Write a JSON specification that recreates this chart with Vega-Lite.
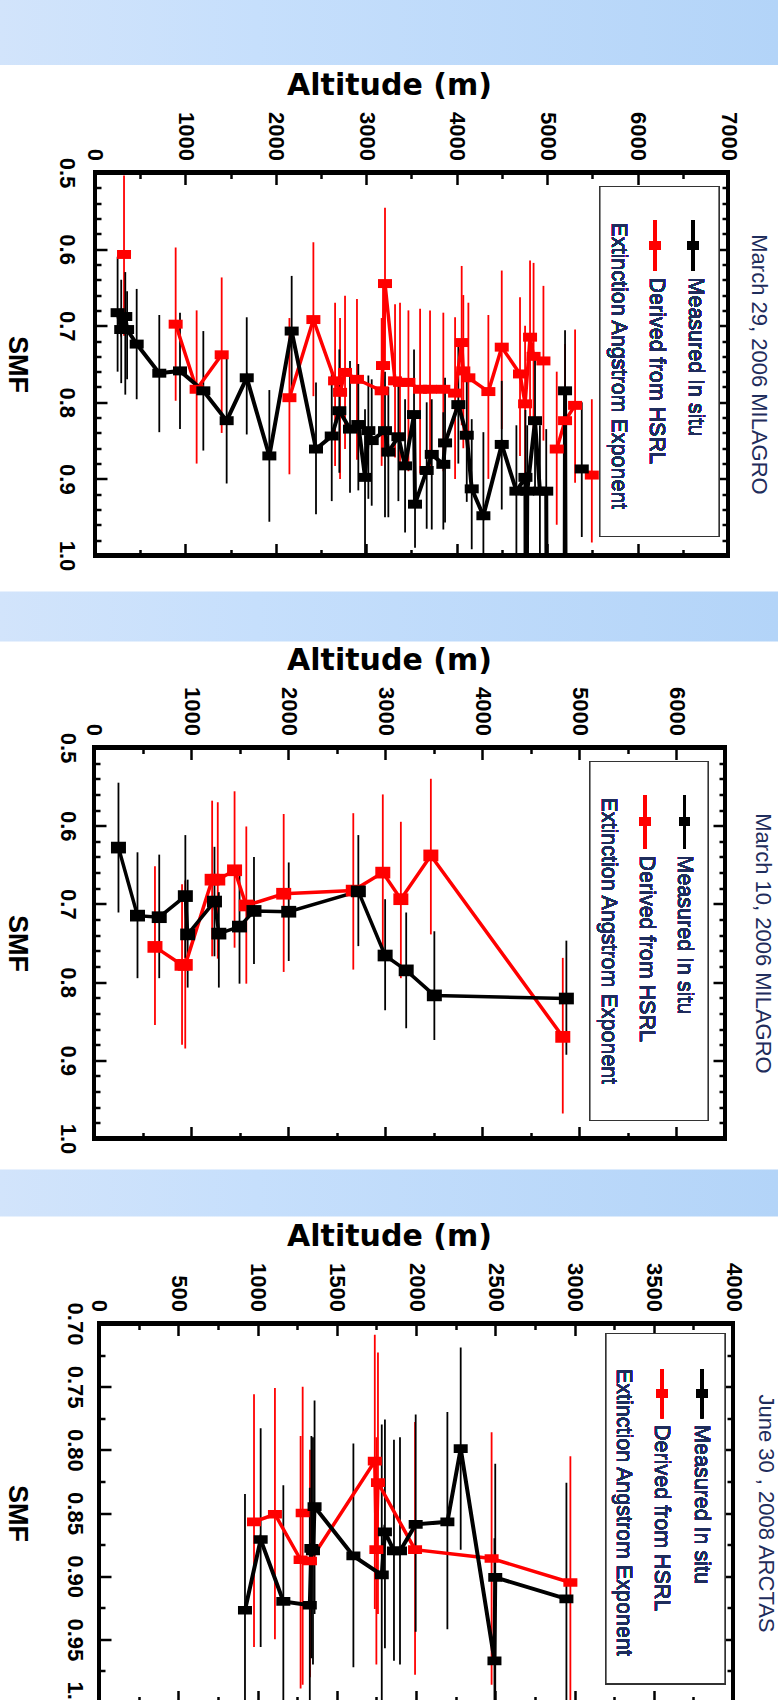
{
  "$schema": "https://vega.github.io/schema/vega-lite/v6.json",
  "padding": 0,
  "background": "#ffffff",
  "config": {
    "view": {"stroke": null},
    "font": "Liberation Sans"
  },
  "datasets": {
    "p1": [
      {"series": "Derived from HSRL", "seg": "r1", "alt": 321, "smf": 0.607, "lo": 0.504, "hi": 0.713},
      {"series": "Derived from HSRL", "seg": "r2", "alt": 892, "smf": 0.698, "lo": 0.598, "hi": 0.798},
      {"series": "Derived from HSRL", "seg": "r2", "alt": 1124, "smf": 0.783, "lo": 0.68, "hi": 0.88},
      {"series": "Derived from HSRL", "seg": "r2", "alt": 1401, "smf": 0.738, "lo": 0.637, "hi": 0.84},
      {"series": "Derived from HSRL", "seg": "r3", "alt": 2150, "smf": 0.794, "lo": 0.69, "hi": 0.894},
      {"series": "Derived from HSRL", "seg": "r3", "alt": 2415, "smf": 0.692, "lo": 0.591, "hi": 0.792},
      {"series": "Derived from HSRL", "seg": "r3", "alt": 2655, "smf": 0.772, "lo": 0.67, "hi": 0.883},
      {"series": "Derived from HSRL", "seg": "r3", "alt": 2710, "smf": 0.787, "lo": 0.69, "hi": 0.9},
      {"series": "Derived from HSRL", "seg": "r3", "alt": 2765, "smf": 0.761, "lo": 0.661, "hi": 0.861},
      {"series": "Derived from HSRL", "seg": "r3", "alt": 2897, "smf": 0.77, "lo": 0.665, "hi": 0.875},
      {"series": "Derived from HSRL", "seg": "r3", "alt": 3170, "smf": 0.785, "lo": 0.69, "hi": 0.883},
      {"series": "Derived from HSRL", "seg": "r3", "alt": 3185, "smf": 0.752, "lo": 0.65, "hi": 0.86},
      {"series": "Derived from HSRL", "seg": "r3", "alt": 3207, "smf": 0.645, "lo": 0.546, "hi": 0.75},
      {"series": "Derived from HSRL", "seg": "r3", "alt": 3318, "smf": 0.772, "lo": 0.672, "hi": 0.872},
      {"series": "Derived from HSRL", "seg": "r3", "alt": 3373, "smf": 0.774, "lo": 0.67, "hi": 0.88},
      {"series": "Derived from HSRL", "seg": "r3", "alt": 3466, "smf": 0.774, "lo": 0.68, "hi": 0.89},
      {"series": "Derived from HSRL", "seg": "r3", "alt": 3595, "smf": 0.783, "lo": 0.678, "hi": 0.893},
      {"series": "Derived from HSRL", "seg": "r3", "alt": 3705, "smf": 0.783, "lo": 0.68, "hi": 0.895},
      {"series": "Derived from HSRL", "seg": "r3", "alt": 3852, "smf": 0.783, "lo": 0.683, "hi": 0.89},
      {"series": "Derived from HSRL", "seg": "r3", "alt": 3982, "smf": 0.788, "lo": 0.689, "hi": 0.9},
      {"series": "Derived from HSRL", "seg": "r3", "alt": 4055, "smf": 0.722, "lo": 0.622, "hi": 0.83},
      {"series": "Derived from HSRL", "seg": "r3", "alt": 4073, "smf": 0.759, "lo": 0.66, "hi": 0.86},
      {"series": "Derived from HSRL", "seg": "r3", "alt": 4129, "smf": 0.768, "lo": 0.67, "hi": 0.87},
      {"series": "Derived from HSRL", "seg": "r3", "alt": 4350, "smf": 0.786, "lo": 0.686, "hi": 0.9},
      {"series": "Derived from HSRL", "seg": "r3", "alt": 4498, "smf": 0.728, "lo": 0.628, "hi": 0.835},
      {"series": "Derived from HSRL", "seg": "r3", "alt": 4700, "smf": 0.763, "lo": 0.663, "hi": 0.87},
      {"series": "Derived from HSRL", "seg": "r3", "alt": 4756, "smf": 0.802, "lo": 0.7, "hi": 0.91},
      {"series": "Derived from HSRL", "seg": "r3", "alt": 4811, "smf": 0.715, "lo": 0.615, "hi": 0.82},
      {"series": "Derived from HSRL", "seg": "r3", "alt": 4850, "smf": 0.74, "lo": 0.618, "hi": 0.85},
      {"series": "Derived from HSRL", "seg": "r3", "alt": 4959, "smf": 0.746, "lo": 0.648, "hi": 0.85},
      {"series": "Derived from HSRL", "seg": "r4", "alt": 5106, "smf": 0.861, "lo": 0.76, "hi": 0.96},
      {"series": "Derived from HSRL", "seg": "r4", "alt": 5198, "smf": 0.824, "lo": 0.724, "hi": 0.925},
      {"series": "Derived from HSRL", "seg": "r4", "alt": 5309, "smf": 0.804, "lo": 0.705, "hi": 0.905},
      {"series": "Derived from HSRL", "seg": "r5", "alt": 5494, "smf": 0.895, "lo": 0.796, "hi": 0.983},
      {"series": "Measured In situ", "seg": "m1", "alt": 250, "smf": 0.683, "lo": 0.61, "hi": 0.76},
      {"series": "Measured In situ", "seg": "m1", "alt": 290, "smf": 0.705, "lo": 0.64, "hi": 0.775},
      {"series": "Measured In situ", "seg": "m1", "alt": 335, "smf": 0.688, "lo": 0.63, "hi": 0.79},
      {"series": "Measured In situ", "seg": "m1", "alt": 355, "smf": 0.705, "lo": 0.655, "hi": 0.77},
      {"series": "Measured In situ", "seg": "m1", "alt": 461, "smf": 0.724, "lo": 0.652, "hi": 0.796},
      {"series": "Measured In situ", "seg": "m1", "alt": 711, "smf": 0.762, "lo": 0.686, "hi": 0.839},
      {"series": "Measured In situ", "seg": "m1", "alt": 940, "smf": 0.759, "lo": 0.683, "hi": 0.835},
      {"series": "Measured In situ", "seg": "m1", "alt": 1198, "smf": 0.785, "lo": 0.707, "hi": 0.863},
      {"series": "Measured In situ", "seg": "m1", "alt": 1456, "smf": 0.824, "lo": 0.742, "hi": 0.906},
      {"series": "Measured In situ", "seg": "m1", "alt": 1678, "smf": 0.768, "lo": 0.689, "hi": 0.842},
      {"series": "Measured In situ", "seg": "m1", "alt": 1928, "smf": 0.87, "lo": 0.784, "hi": 0.956},
      {"series": "Measured In situ", "seg": "m1", "alt": 2175, "smf": 0.707, "lo": 0.635, "hi": 0.787},
      {"series": "Measured In situ", "seg": "m1", "alt": 2444, "smf": 0.861, "lo": 0.774, "hi": 0.946},
      {"series": "Measured In situ", "seg": "m1", "alt": 2618, "smf": 0.844, "lo": 0.757, "hi": 0.929},
      {"series": "Measured In situ", "seg": "m1", "alt": 2702, "smf": 0.811, "lo": 0.731, "hi": 0.892},
      {"series": "Measured In situ", "seg": "m1", "alt": 2820, "smf": 0.835, "lo": 0.746, "hi": 0.918},
      {"series": "Measured In situ", "seg": "m1", "alt": 2912, "smf": 0.829, "lo": 0.75, "hi": 0.915},
      {"series": "Measured In situ", "seg": "m1", "alt": 2986, "smf": 0.898, "lo": 0.809, "hi": 1.02},
      {"series": "Measured In situ", "seg": "m1", "alt": 3023, "smf": 0.837, "lo": 0.765, "hi": 0.926},
      {"series": "Measured In situ", "seg": "m1", "alt": 3060, "smf": 0.85, "lo": 0.77, "hi": 0.935},
      {"series": "Measured In situ", "seg": "m1", "alt": 3207, "smf": 0.837, "lo": 0.76, "hi": 0.95},
      {"series": "Measured In situ", "seg": "m1", "alt": 3244, "smf": 0.865, "lo": 0.78, "hi": 0.95},
      {"series": "Measured In situ", "seg": "m1", "alt": 3355, "smf": 0.845, "lo": 0.77, "hi": 0.929},
      {"series": "Measured In situ", "seg": "m1", "alt": 3429, "smf": 0.883, "lo": 0.796, "hi": 0.97},
      {"series": "Measured In situ", "seg": "m1", "alt": 3528, "smf": 0.816, "lo": 0.731, "hi": 0.905},
      {"series": "Measured In situ", "seg": "m1", "alt": 3539, "smf": 0.933, "lo": 0.85, "hi": 0.99},
      {"series": "Measured In situ", "seg": "m1", "alt": 3668, "smf": 0.889, "lo": 0.8, "hi": 0.965},
      {"series": "Measured In situ", "seg": "m1", "alt": 3724, "smf": 0.868, "lo": 0.796, "hi": 0.966},
      {"series": "Measured In situ", "seg": "m1", "alt": 3852, "smf": 0.881, "lo": 0.813, "hi": 0.966},
      {"series": "Measured In situ", "seg": "m1", "alt": 3871, "smf": 0.853, "lo": 0.768, "hi": 0.957},
      {"series": "Measured In situ", "seg": "m1", "alt": 4018, "smf": 0.803, "lo": 0.724, "hi": 0.88},
      {"series": "Measured In situ", "seg": "m1", "alt": 4111, "smf": 0.843, "lo": 0.76, "hi": 0.93},
      {"series": "Measured In situ", "seg": "m1", "alt": 4166, "smf": 0.913, "lo": 0.822, "hi": 0.992},
      {"series": "Measured In situ", "seg": "m1", "alt": 4295, "smf": 0.948, "lo": 0.839, "hi": 1.03},
      {"series": "Measured In situ", "seg": "m1", "alt": 4498, "smf": 0.855, "lo": 0.772, "hi": 0.94},
      {"series": "Measured In situ", "seg": "m1", "alt": 4660, "smf": 0.916, "lo": 0.83, "hi": 1.0},
      {"series": "Measured In situ", "seg": "m1", "alt": 4760, "smf": 0.898, "lo": 0.81, "hi": 0.99},
      {"series": "Measured In situ", "seg": "m1", "alt": 4765, "smf": 1.3, "lo": null, "hi": null},
      {"series": "Measured In situ", "seg": "m1", "alt": 4780, "smf": 0.916, "lo": 0.83, "hi": 1.01},
      {"series": "Measured In situ", "seg": "m1", "alt": 4866, "smf": 0.824, "lo": 0.744, "hi": 0.918},
      {"series": "Measured In situ", "seg": "m1", "alt": 4920, "smf": 0.916, "lo": 0.83, "hi": 1.01},
      {"series": "Measured In situ", "seg": "m1", "alt": 4990, "smf": 0.916, "lo": 0.835, "hi": 1.01},
      {"series": "Measured In situ", "seg": "m1", "alt": 5000, "smf": 1.3, "lo": null, "hi": null},
      {"series": "Measured In situ", "seg": "m1", "alt": 5190, "smf": 1.3, "lo": null, "hi": null},
      {"series": "Measured In situ", "seg": "m1", "alt": 5198, "smf": 0.785, "lo": 0.706, "hi": 1.05},
      {"series": "Measured In situ", "seg": "m1", "alt": 5210, "smf": 1.3, "lo": null, "hi": null},
      {"series": "Measured In situ", "seg": "m2", "alt": 5383, "smf": 0.887, "lo": 0.8, "hi": 0.976}
    ],
    "p2": [
      {"series": "Derived from HSRL", "seg": "r1", "alt": 628, "smf": 0.755, "lo": 0.652, "hi": 0.855},
      {"series": "Derived from HSRL", "seg": "r1", "alt": 907, "smf": 0.778, "lo": 0.675, "hi": 0.88},
      {"series": "Derived from HSRL", "seg": "r1", "alt": 940, "smf": 0.778, "lo": 0.67, "hi": 0.885},
      {"series": "Derived from HSRL", "seg": "r1", "alt": 1217, "smf": 0.669, "lo": 0.568, "hi": 0.767},
      {"series": "Derived from HSRL", "seg": "r1", "alt": 1275, "smf": 0.669, "lo": 0.57, "hi": 0.77},
      {"series": "Derived from HSRL", "seg": "r1", "alt": 1448, "smf": 0.657, "lo": 0.556, "hi": 0.756},
      {"series": "Derived from HSRL", "seg": "r1", "alt": 1569, "smf": 0.702, "lo": 0.601, "hi": 0.802},
      {"series": "Derived from HSRL", "seg": "r1", "alt": 1954, "smf": 0.687, "lo": 0.585, "hi": 0.787},
      {"series": "Derived from HSRL", "seg": "r1", "alt": 2671, "smf": 0.683, "lo": 0.584, "hi": 0.784},
      {"series": "Derived from HSRL", "seg": "r1", "alt": 2975, "smf": 0.66, "lo": 0.56, "hi": 0.762},
      {"series": "Derived from HSRL", "seg": "r1", "alt": 3161, "smf": 0.694, "lo": 0.595, "hi": 0.795},
      {"series": "Derived from HSRL", "seg": "r1", "alt": 3470, "smf": 0.638, "lo": 0.54, "hi": 0.739},
      {"series": "Derived from HSRL", "seg": "r1", "alt": 4829, "smf": 0.87, "lo": 0.769, "hi": 0.968},
      {"series": "Measured In situ", "seg": "m1", "alt": 252, "smf": 0.628, "lo": 0.545, "hi": 0.711},
      {"series": "Measured In situ", "seg": "m1", "alt": 448, "smf": 0.715, "lo": 0.634, "hi": 0.795},
      {"series": "Measured In situ", "seg": "m1", "alt": 672, "smf": 0.717, "lo": 0.637, "hi": 0.795},
      {"series": "Measured In situ", "seg": "m1", "alt": 941, "smf": 0.69, "lo": 0.612, "hi": 0.769},
      {"series": "Measured In situ", "seg": "m1", "alt": 965, "smf": 0.739, "lo": 0.669, "hi": 0.807},
      {"series": "Measured In situ", "seg": "m1", "alt": 1241, "smf": 0.697, "lo": 0.627, "hi": 0.767},
      {"series": "Measured In situ", "seg": "m1", "alt": 1286, "smf": 0.738, "lo": 0.685, "hi": 0.807},
      {"series": "Measured In situ", "seg": "m1", "alt": 1499, "smf": 0.729, "lo": 0.657, "hi": 0.802},
      {"series": "Measured In situ", "seg": "m1", "alt": 1648, "smf": 0.709, "lo": 0.64, "hi": 0.777},
      {"series": "Measured In situ", "seg": "m1", "alt": 2006, "smf": 0.71, "lo": 0.647, "hi": 0.773},
      {"series": "Measured In situ", "seg": "m1", "alt": 2723, "smf": 0.684, "lo": 0.612, "hi": 0.754},
      {"series": "Measured In situ", "seg": "m1", "alt": 2999, "smf": 0.766, "lo": 0.694, "hi": 0.836},
      {"series": "Measured In situ", "seg": "m1", "alt": 3216, "smf": 0.785, "lo": 0.711, "hi": 0.859},
      {"series": "Measured In situ", "seg": "m1", "alt": 3506, "smf": 0.817, "lo": 0.735, "hi": 0.874},
      {"series": "Measured In situ", "seg": "m1", "alt": 4866, "smf": 0.821, "lo": 0.747, "hi": 0.893}
    ],
    "p3": [
      {"series": "Derived from HSRL", "seg": "r1", "alt": 978, "smf": 0.857, "lo": 0.756, "hi": 0.956},
      {"series": "Derived from HSRL", "seg": "r1", "alt": 1110, "smf": 0.851, "lo": 0.751, "hi": 0.95},
      {"series": "Derived from HSRL", "seg": "r1", "alt": 1272, "smf": 0.887, "lo": 0.789, "hi": 0.989},
      {"series": "Derived from HSRL", "seg": "r1", "alt": 1331, "smf": 0.888, "lo": 0.8, "hi": 0.98},
      {"series": "Derived from HSRL", "seg": "r1", "alt": 1740, "smf": 0.809, "lo": 0.709, "hi": 0.926},
      {"series": "Derived from HSRL", "seg": "r1", "alt": 1750, "smf": 0.879, "lo": 0.79, "hi": 0.97},
      {"series": "Derived from HSRL", "seg": "r1", "alt": 1760, "smf": 0.826, "lo": 0.723, "hi": 0.93},
      {"series": "Derived from HSRL", "seg": "r1", "alt": 1994, "smf": 0.879, "lo": 0.778, "hi": 0.978},
      {"series": "Derived from HSRL", "seg": "r1", "alt": 2477, "smf": 0.886, "lo": 0.786, "hi": 0.986},
      {"series": "Derived from HSRL", "seg": "r1", "alt": 2974, "smf": 0.905, "lo": 0.805, "hi": 1.01},
      {"series": "Derived from HSRL", "seg": "r2", "alt": 1285, "smf": 0.85, "lo": 0.75, "hi": 0.986},
      {"series": "Measured In situ", "seg": "m1", "alt": 921, "smf": 0.927, "lo": 0.835, "hi": 1.02},
      {"series": "Measured In situ", "seg": "m1", "alt": 1020, "smf": 0.871, "lo": 0.783, "hi": 0.956},
      {"series": "Measured In situ", "seg": "m1", "alt": 1163, "smf": 0.92, "lo": 0.828, "hi": 1.01},
      {"series": "Measured In situ", "seg": "m1", "alt": 1330, "smf": 0.923, "lo": 0.83, "hi": 1.02},
      {"series": "Measured In situ", "seg": "m1", "alt": 1340, "smf": 0.878, "lo": 0.789, "hi": 0.965},
      {"series": "Measured In situ", "seg": "m1", "alt": 1350, "smf": 0.88, "lo": 0.79, "hi": 0.97},
      {"series": "Measured In situ", "seg": "m1", "alt": 1360, "smf": 0.845, "lo": 0.761, "hi": 0.93},
      {"series": "Measured In situ", "seg": "m1", "alt": 1605, "smf": 0.884, "lo": 0.795, "hi": 0.972},
      {"series": "Measured In situ", "seg": "m1", "alt": 1784, "smf": 0.899, "lo": 0.78, "hi": 1.03},
      {"series": "Measured In situ", "seg": "m1", "alt": 1804, "smf": 0.865, "lo": 0.776, "hi": 0.957},
      {"series": "Measured In situ", "seg": "m1", "alt": 1861, "smf": 0.88, "lo": 0.792, "hi": 0.967},
      {"series": "Measured In situ", "seg": "m1", "alt": 1899, "smf": 0.88, "lo": 0.79, "hi": 0.97},
      {"series": "Measured In situ", "seg": "m1", "alt": 1998, "smf": 0.859, "lo": 0.772, "hi": 0.944},
      {"series": "Measured In situ", "seg": "m1", "alt": 2198, "smf": 0.857, "lo": 0.77, "hi": 0.942},
      {"series": "Measured In situ", "seg": "m1", "alt": 2282, "smf": 0.799, "lo": 0.719, "hi": 0.879},
      {"series": "Measured In situ", "seg": "m1", "alt": 2495, "smf": 0.967, "lo": 0.87, "hi": 1.05},
      {"series": "Measured In situ", "seg": "m1", "alt": 2500, "smf": 0.901, "lo": 0.811, "hi": 0.991},
      {"series": "Measured In situ", "seg": "m1", "alt": 2949, "smf": 0.918, "lo": 0.826, "hi": 1.01}
    ]
  },
  "spacing": 20.5,
  "vconcat": [
    {
      "spacing": 5.5,
      "vconcat": [
        {
          "data": {"values": [{}]},
          "width": 778,
          "height": 65,
          "mark": {"type": "rect", "color": {"gradient": "linear", "x1": 0, "y1": 0, "x2": 1, "y2": 0, "stops": [{"offset": 0, "color": "#d2e4fb"}, {"offset": 0.33, "color": "#c6dffc"}, {"offset": 1, "color": "#b3d4f8"}]}}
        },
        {
          "width": 778,
          "height": 383,
          "data": {"name": "p1"},
          "resolve": {"axis": {"x": "independent", "y": "independent"}},
          "encoding": {
            "x": {"type": "quantitative", "scale": {"domain": [-1050.5, 7552.9], "nice": false, "zero": false}},
            "y": {"type": "quantitative", "scale": {"domain": [0.5, 1.0], "reverse": true, "nice": false, "zero": false}}
          },
          "layer": [
            {"mark": {"type": "rule", "color": "#000000", "strokeWidth": 3.5, "strokeCap": "square"}, "encoding": {"x": {"datum": 0, "type": "quantitative", "axis": null}, "y": {"datum": 0.5, "type": "quantitative", "axis": null}, "y2": {"datum": 1.0}}},
            {"mark": {"type": "rule", "color": "#000000", "strokeWidth": 3.5, "strokeCap": "square"}, "encoding": {"x": {"datum": 7000, "type": "quantitative", "axis": null}, "y": {"datum": 0.5, "type": "quantitative", "axis": null}, "y2": {"datum": 1.0}}},
            {"mark": {"type": "rule", "color": "#000000", "strokeWidth": 3.5, "strokeCap": "square"}, "encoding": {"x": {"datum": 0, "type": "quantitative", "axis": null}, "x2": {"datum": 7000}, "y": {"datum": 0.5, "type": "quantitative", "axis": null}}},
            {"mark": {"type": "rule", "color": "#000000", "strokeWidth": 3.5, "strokeCap": "square"}, "encoding": {"x": {"datum": 0, "type": "quantitative", "axis": null}, "x2": {"datum": 7000}, "y": {"datum": 1.0, "type": "quantitative", "axis": null}}},
            {
              "mark": {"type": "rule", "clip": true, "strokeWidth": 1.8},
              "encoding": {
                "x": {"field": "alt", "type": "quantitative",
                  "axis": {"orient": "top", "values": [0, 1000, 2000, 3000, 4000, 5000, 6000, 7000], "format": "d", "labelAngle": 90, "labelAlign": "right", "labelBaseline": "middle", "labelPadding": 12, "labelFont": "Liberation Sans", "labelFontSize": 22, "labelFontWeight": "bold", "labelColor": "#000000", "labelFlush": false, "labelOverlap": false, "ticks": false, "domain": false, "grid": false, "title": "Altitude (m)", "titleFont": "DejaVu Sans", "titleFontSize": 30, "titleFontWeight": "bold", "titleColor": "#000000", "titlePadding": 11}},
                "y": {"field": "lo", "type": "quantitative",
                  "axis": {"orient": "left", "offset": -95, "values": [0.5, 0.6, 0.7, 0.8, 0.9, 1.0], "format": ".1f", "labelAngle": 90, "labelAlign": "center", "labelBaseline": "top", "labelPadding": 19, "labelFont": "Liberation Sans", "labelFontSize": 22, "labelFontWeight": "bold", "labelColor": "#000000", "labelFlush": false, "labelOverlap": false, "ticks": false, "domain": false, "grid": false, "title": "SMF", "titleAngle": 90, "titleAlign": "center", "titleBaseline": "top", "titleFont": "Liberation Sans", "titleFontSize": 27, "titleFontWeight": "bold", "titleColor": "#000000", "titlePadding": 26}},
                "y2": {"field": "hi"},
                "color": {"condition": {"test": "datum.series === 'Derived from HSRL'", "value": "#ff0000"}, "value": "#000000"}
              }
            },
            {
              "mark": {"type": "line", "clip": true},
              "encoding": {
                "x": {"field": "alt", "type": "quantitative",
                  "axis": {"orient": "bottom", "values": [0, 500, 1000, 1500, 2000, 2500, 3000, 3500, 4000, 4500, 5000, 5500, 6000, 6500, 7000], "labels": false, "domain": false, "grid": false, "title": null, "ticks": true, "tickColor": "#000000", "tickWidth": 2.5, "tickSize": {"condition": {"test": "datum.value % 1000 === 0", "value": -12}, "value": -6}}},
                "y": {"field": "smf", "type": "quantitative",
                  "axis": {"orient": "right", "offset": -50, "minExtent": 0, "values": [0.5, 0.52, 0.54, 0.56, 0.58, 0.6, 0.62, 0.64, 0.66, 0.68, 0.7, 0.72, 0.74, 0.76, 0.78, 0.8, 0.82, 0.84, 0.86, 0.88, 0.9, 0.92, 0.94, 0.96, 0.98, 1.0], "labels": false, "domain": false, "grid": false, "ticks": true, "tickColor": "#000000", "tickWidth": 2.5, "tickSize": {"condition": {"test": "abs(datum.value * 10 - round(datum.value * 10)) < 0.001", "value": -12}, "value": -6},
                    "title": "March 29, 2006 MILAGRO", "titleAngle": 90, "titleAlign": "center", "titleAnchor": "middle", "titleBaseline": "bottom", "titleFont": "Liberation Sans", "titleFontSize": 22, "titleFontWeight": "normal", "titleColor": "#1f2d5c", "titlePadding": 17.5}},
                "color": {"condition": {"test": "datum.series === 'Derived from HSRL'", "value": "#ff0000"}, "value": "#000000"},
                "detail": [{"field": "series"}, {"field": "seg"}],
                "order": {"field": "alt", "type": "quantitative"},
                "strokeWidth": {"condition": {"test": "datum.series === 'Derived from HSRL'", "value": 3.5}, "value": 4}
              }
            },
            {
              "mark": {"type": "point", "shape": "M-1,-0.64H1V0.64H-1Z", "filled": true, "size": 196, "opacity": 1, "clip": true},
              "encoding": {
                "x": {"field": "alt", "type": "quantitative",
                  "axis": {"orient": "top", "values": [0, 500, 1000, 1500, 2000, 2500, 3000, 3500, 4000, 4500, 5000, 5500, 6000, 6500, 7000], "labels": false, "domain": false, "grid": false, "title": null, "ticks": true, "tickColor": "#000000", "tickWidth": 2.5, "tickSize": {"condition": {"test": "datum.value % 1000 === 0", "value": -12}, "value": -6}}},
                "y": {"field": "smf", "type": "quantitative",
                  "axis": {"orient": "left", "offset": -95, "values": [0.5, 0.52, 0.54, 0.56, 0.58, 0.6, 0.62, 0.64, 0.66, 0.68, 0.7, 0.72, 0.74, 0.76, 0.78, 0.8, 0.82, 0.84, 0.86, 0.88, 0.9, 0.92, 0.94, 0.96, 0.98, 1.0], "labels": false, "domain": false, "grid": false, "title": null, "ticks": true, "tickColor": "#000000", "tickWidth": 2.5, "tickSize": {"condition": {"test": "abs(datum.value * 10 - round(datum.value * 10)) < 0.001", "value": -12}, "value": -6}}},
                "color": {"condition": {"test": "datum.series === 'Derived from HSRL'", "value": "#ff0000"}, "value": "#000000"}
              }
            },
            {"mark": {"type": "rect", "fill": "#ffffff", "stroke": "#333333", "strokeWidth": 1.2}, "encoding": {"x": {"datum": 5584, "type": "quantitative", "axis": null}, "x2": {"datum": 6900}, "y": {"datum": 0.5183, "type": "quantitative", "axis": null}, "y2": {"datum": 0.9752}}},
            {"mark": {"type": "rule", "color": "#000000", "strokeWidth": 3}, "encoding": {"x": {"datum": 6613, "type": "quantitative", "axis": null}, "y": {"datum": 0.5627, "type": "quantitative", "axis": null}, "y2": {"datum": 0.6279}}},
            {"mark": {"type": "point", "shape": "M-1,-0.8H1V0.8H-1Z", "filled": true, "size": 121, "opacity": 1, "color": "#000000"}, "encoding": {"x": {"datum": 6613, "type": "quantitative", "axis": null}, "y": {"datum": 0.5953, "type": "quantitative", "axis": null}}},
            {"mark": {"type": "rule", "color": "#ff0000", "strokeWidth": 3}, "encoding": {"x": {"datum": 6192, "type": "quantitative", "axis": null}, "y": {"datum": 0.5627, "type": "quantitative", "axis": null}, "y2": {"datum": 0.6279}}},
            {"mark": {"type": "point", "shape": "M-1,-0.8H1V0.8H-1Z", "filled": true, "size": 121, "opacity": 1, "color": "#ff0000"}, "encoding": {"x": {"datum": 6192, "type": "quantitative", "axis": null}, "y": {"datum": 0.5953, "type": "quantitative", "axis": null}}},
            {"mark": {"type": "text", "text": "Measured In situ", "angle": 90, "align": "left", "baseline": "middle", "font": "Liberation Sans", "fontSize": 21.5, "color": "#1f2d5c"}, "encoding": {"x": {"datum": 6630, "type": "quantitative", "axis": null}, "y": {"datum": 0.6371, "type": "quantitative", "axis": null}}},
            {"mark": {"type": "text", "text": "Derived from HSRL", "angle": 90, "align": "left", "baseline": "middle", "font": "Liberation Sans", "fontSize": 21.5, "color": "#1f2d5c"}, "encoding": {"x": {"datum": 6205, "type": "quantitative", "axis": null}, "y": {"datum": 0.6371, "type": "quantitative", "axis": null}}},
            {"mark": {"type": "text", "text": "Extinction Angstrom Exponent", "angle": 90, "align": "left", "baseline": "middle", "font": "Liberation Sans", "fontSize": 21.5, "color": "#1f2d5c"}, "encoding": {"x": {"datum": 5789, "type": "quantitative", "axis": null}, "y": {"datum": 0.5653, "type": "quantitative", "axis": null}}}
          ]
        }
      ]
    },
    {
      "spacing": 15,
      "vconcat": [
        {
          "spacing": 4,
          "vconcat": [
            {
              "data": {"values": [{}]},
              "width": 778,
              "height": 50,
              "mark": {"type": "rect", "color": {"gradient": "linear", "x1": 0, "y1": 0, "x2": 1, "y2": 0, "stops": [{"offset": 0, "color": "#d2e4fb"}, {"offset": 0.33, "color": "#c6dffc"}, {"offset": 1, "color": "#b3d4f8"}]}}
            },
            {
              "width": 778,
              "height": 391,
              "data": {"name": "p2"},
              "resolve": {"axis": {"x": "independent", "y": "independent"}},
              "encoding": {
                "x": {"type": "quantitative", "scale": {"domain": [-968.3, 7046], "nice": false, "zero": false}},
                "y": {"type": "quantitative", "scale": {"domain": [0.5, 1.0], "reverse": true, "nice": false, "zero": false}}
              },
              "layer": [
                {"mark": {"type": "rule", "color": "#000000", "strokeWidth": 3.5, "strokeCap": "square"}, "encoding": {"x": {"datum": 0, "type": "quantitative", "axis": null}, "y": {"datum": 0.5, "type": "quantitative", "axis": null}, "y2": {"datum": 1.0}}},
                {"mark": {"type": "rule", "color": "#000000", "strokeWidth": 3.5, "strokeCap": "square"}, "encoding": {"x": {"datum": 6500, "type": "quantitative", "axis": null}, "y": {"datum": 0.5, "type": "quantitative", "axis": null}, "y2": {"datum": 1.0}}},
                {"mark": {"type": "rule", "color": "#000000", "strokeWidth": 3.5, "strokeCap": "square"}, "encoding": {"x": {"datum": 0, "type": "quantitative", "axis": null}, "x2": {"datum": 6500}, "y": {"datum": 0.5, "type": "quantitative", "axis": null}}},
                {"mark": {"type": "rule", "color": "#000000", "strokeWidth": 3.5, "strokeCap": "square"}, "encoding": {"x": {"datum": 0, "type": "quantitative", "axis": null}, "x2": {"datum": 6500}, "y": {"datum": 1.0, "type": "quantitative", "axis": null}}},
                {
                  "mark": {"type": "rule", "clip": true, "strokeWidth": 1.8},
                  "encoding": {
                    "x": {"field": "alt", "type": "quantitative",
                      "axis": {"orient": "top", "values": [0, 1000, 2000, 3000, 4000, 5000, 6000], "format": "d", "labelAngle": 90, "labelAlign": "right", "labelBaseline": "middle", "labelPadding": 12, "labelFont": "Liberation Sans", "labelFontSize": 22, "labelFontWeight": "bold", "labelColor": "#000000", "labelFlush": false, "labelOverlap": false, "ticks": false, "domain": false, "grid": false, "title": "Altitude (m)", "titleFont": "DejaVu Sans", "titleFontSize": 30, "titleFontWeight": "bold", "titleColor": "#000000", "titlePadding": 11}},
                    "y": {"field": "lo", "type": "quantitative",
                      "axis": {"orient": "left", "offset": -94, "values": [0.5, 0.6, 0.7, 0.8, 0.9, 1.0], "format": ".1f", "labelAngle": 90, "labelAlign": "center", "labelBaseline": "top", "labelPadding": 16.5, "labelFont": "Liberation Sans", "labelFontSize": 22, "labelFontWeight": "bold", "labelColor": "#000000", "labelFlush": false, "labelOverlap": false, "ticks": false, "domain": false, "grid": false, "title": "SMF", "titleAngle": 90, "titleAlign": "center", "titleBaseline": "top", "titleFont": "Liberation Sans", "titleFontSize": 27, "titleFontWeight": "bold", "titleColor": "#000000", "titlePadding": 27.5}},
                    "y2": {"field": "hi"},
                    "color": {"condition": {"test": "datum.series === 'Derived from HSRL'", "value": "#ff0000"}, "value": "#000000"}
                  }
                },
                {
                  "mark": {"type": "line", "clip": true},
                  "encoding": {
                    "x": {"field": "alt", "type": "quantitative",
                      "axis": {"orient": "bottom", "values": [0, 500, 1000, 1500, 2000, 2500, 3000, 3500, 4000, 4500, 5000, 5500, 6000, 6500], "labels": false, "domain": false, "grid": false, "title": null, "ticks": true, "tickColor": "#000000", "tickWidth": 2.5, "tickSize": {"condition": {"test": "datum.value % 1000 === 0", "value": -12}, "value": -6}}},
                    "y": {"field": "smf", "type": "quantitative",
                      "axis": {"orient": "right", "offset": -53, "minExtent": 0, "values": [0.5, 0.52, 0.54, 0.56, 0.58, 0.6, 0.62, 0.64, 0.66, 0.68, 0.7, 0.72, 0.74, 0.76, 0.78, 0.8, 0.82, 0.84, 0.86, 0.88, 0.9, 0.92, 0.94, 0.96, 0.98, 1.0], "labels": false, "domain": false, "grid": false, "ticks": true, "tickColor": "#000000", "tickWidth": 2.5, "tickSize": {"condition": {"test": "abs(datum.value * 10 - round(datum.value * 10)) < 0.001", "value": -12}, "value": -6},
                        "title": "March 10, 2006 MILAGRO", "titleAngle": 90, "titleAlign": "center", "titleAnchor": "middle", "titleBaseline": "bottom", "titleFont": "Liberation Sans", "titleFontSize": 22, "titleFontWeight": "normal", "titleColor": "#1f2d5c", "titlePadding": 24}},
                    "color": {"condition": {"test": "datum.series === 'Derived from HSRL'", "value": "#ff0000"}, "value": "#000000"},
                    "detail": [{"field": "series"}, {"field": "seg"}],
                    "order": {"field": "alt", "type": "quantitative"},
                    "strokeWidth": {"value": 3.5}
                  }
                },
                {
                  "mark": {"type": "point", "shape": "M-1,-0.78H1V0.78H-1Z", "filled": true, "size": 225, "opacity": 1, "clip": true},
                  "encoding": {
                    "x": {"field": "alt", "type": "quantitative",
                      "axis": {"orient": "top", "values": [0, 500, 1000, 1500, 2000, 2500, 3000, 3500, 4000, 4500, 5000, 5500, 6000, 6500], "labels": false, "domain": false, "grid": false, "title": null, "ticks": true, "tickColor": "#000000", "tickWidth": 2.5, "tickSize": {"condition": {"test": "datum.value % 1000 === 0", "value": -12}, "value": -6}}},
                    "y": {"field": "smf", "type": "quantitative",
                      "axis": {"orient": "left", "offset": -94, "values": [0.5, 0.52, 0.54, 0.56, 0.58, 0.6, 0.62, 0.64, 0.66, 0.68, 0.7, 0.72, 0.74, 0.76, 0.78, 0.8, 0.82, 0.84, 0.86, 0.88, 0.9, 0.92, 0.94, 0.96, 0.98, 1.0], "labels": false, "domain": false, "grid": false, "title": null, "ticks": true, "tickColor": "#000000", "tickWidth": 2.5, "tickSize": {"condition": {"test": "abs(datum.value * 10 - round(datum.value * 10)) < 0.001", "value": -12}, "value": -6}}},
                    "color": {"condition": {"test": "datum.series === 'Derived from HSRL'", "value": "#ff0000"}, "value": "#000000"}
                  }
                },
                {"mark": {"type": "rect", "fill": "#ffffff", "stroke": "#333333", "strokeWidth": 1.2}, "encoding": {"x": {"datum": 5109, "type": "quantitative", "axis": null}, "x2": {"datum": 6325}, "y": {"datum": 0.5179, "type": "quantitative", "axis": null}, "y2": {"datum": 0.977}}},
                {"mark": {"type": "rule", "color": "#000000", "strokeWidth": 3}, "encoding": {"x": {"datum": 6083, "type": "quantitative", "axis": null}, "y": {"datum": 0.5614, "type": "quantitative", "axis": null}, "y2": {"datum": 0.6292}}},
                {"mark": {"type": "point", "shape": "M-1,-0.8H1V0.8H-1Z", "filled": true, "size": 121, "opacity": 1, "color": "#000000"}, "encoding": {"x": {"datum": 6083, "type": "quantitative", "axis": null}, "y": {"datum": 0.5946, "type": "quantitative", "axis": null}}},
                {"mark": {"type": "rule", "color": "#ff0000", "strokeWidth": 3}, "encoding": {"x": {"datum": 5676, "type": "quantitative", "axis": null}, "y": {"datum": 0.5614, "type": "quantitative", "axis": null}, "y2": {"datum": 0.6292}}},
                {"mark": {"type": "point", "shape": "M-1,-0.8H1V0.8H-1Z", "filled": true, "size": 121, "opacity": 1, "color": "#ff0000"}, "encoding": {"x": {"datum": 5676, "type": "quantitative", "axis": null}, "y": {"datum": 0.5946, "type": "quantitative", "axis": null}}},
                {"mark": {"type": "text", "text": "Measured In situ", "angle": 90, "align": "left", "baseline": "middle", "font": "Liberation Sans", "fontSize": 21.5, "color": "#1f2d5c"}, "encoding": {"x": {"datum": 6075, "type": "quantitative", "axis": null}, "y": {"datum": 0.6381, "type": "quantitative", "axis": null}}},
                {"mark": {"type": "text", "text": "Derived from HSRL", "angle": 90, "align": "left", "baseline": "middle", "font": "Liberation Sans", "fontSize": 21.5, "color": "#1f2d5c"}, "encoding": {"x": {"datum": 5686, "type": "quantitative", "axis": null}, "y": {"datum": 0.6381, "type": "quantitative", "axis": null}}},
                {"mark": {"type": "text", "text": "Extinction Angstrom Exponent", "angle": 90, "align": "left", "baseline": "middle", "font": "Liberation Sans", "fontSize": 21.5, "color": "#1f2d5c"}, "encoding": {"x": {"datum": 5291, "type": "quantitative", "axis": null}, "y": {"datum": 0.5639, "type": "quantitative", "axis": null}}}
              ]
            }
          ]
        },
        {
          "spacing": 5,
          "vconcat": [
            {
              "data": {"values": [{}]},
              "width": 778,
              "height": 47,
              "mark": {"type": "rect", "color": {"gradient": "linear", "x1": 0, "y1": 0, "x2": 1, "y2": 0, "stops": [{"offset": 0, "color": "#d2e4fb"}, {"offset": 0.33, "color": "#c6dffc"}, {"offset": 1, "color": "#b3d4f8"}]}}
            },
            {
              "width": 778,
              "height": 379,
              "data": {"name": "p3"},
              "resolve": {"axis": {"x": "independent", "y": "independent"}},
              "encoding": {
                "x": {"type": "quantitative", "scale": {"domain": [-624.6, 4283.9], "nice": false, "zero": false}},
                "y": {"type": "quantitative", "scale": {"domain": [0.7, 1.0], "reverse": true, "nice": false, "zero": false}}
              },
              "layer": [
                {"mark": {"type": "rule", "color": "#000000", "strokeWidth": 3.5, "strokeCap": "square"}, "encoding": {"x": {"datum": 0, "type": "quantitative", "axis": null}, "y": {"datum": 0.7, "type": "quantitative", "axis": null}, "y2": {"datum": 1.0}}},
                {"mark": {"type": "rule", "color": "#000000", "strokeWidth": 3.5, "strokeCap": "square"}, "encoding": {"x": {"datum": 4000, "type": "quantitative", "axis": null}, "y": {"datum": 0.7, "type": "quantitative", "axis": null}, "y2": {"datum": 1.0}}},
                {"mark": {"type": "rule", "color": "#000000", "strokeWidth": 3.5, "strokeCap": "square"}, "encoding": {"x": {"datum": 0, "type": "quantitative", "axis": null}, "x2": {"datum": 4000}, "y": {"datum": 0.7, "type": "quantitative", "axis": null}}},
                {"mark": {"type": "rule", "color": "#000000", "strokeWidth": 3.5, "strokeCap": "square"}, "encoding": {"x": {"datum": 0, "type": "quantitative", "axis": null}, "x2": {"datum": 4000}, "y": {"datum": 1.0, "type": "quantitative", "axis": null}}},
                {
                  "mark": {"type": "rule", "clip": true, "strokeWidth": 1.8},
                  "encoding": {
                    "x": {"field": "alt", "type": "quantitative",
                      "axis": {"orient": "top", "values": [0, 500, 1000, 1500, 2000, 2500, 3000, 3500, 4000], "format": "d", "labelAngle": 90, "labelAlign": "right", "labelBaseline": "middle", "labelPadding": 12, "labelFont": "Liberation Sans", "labelFontSize": 22, "labelFontWeight": "bold", "labelColor": "#000000", "labelFlush": false, "labelOverlap": false, "ticks": false, "domain": false, "grid": false, "title": "Altitude (m)", "titleFont": "DejaVu Sans", "titleFontSize": 30, "titleFontWeight": "bold", "titleColor": "#000000", "titlePadding": 11}},
                    "y": {"field": "lo", "type": "quantitative",
                      "axis": {"orient": "left", "offset": -99, "values": [0.7, 0.75, 0.8, 0.85, 0.9, 0.95, 1.0], "format": ".2f", "labelAngle": 90, "labelAlign": "center", "labelBaseline": "top", "labelPadding": 15, "labelFont": "Liberation Sans", "labelFontSize": 22, "labelFontWeight": "bold", "labelColor": "#000000", "labelFlush": false, "labelOverlap": false, "ticks": false, "domain": false, "grid": false, "title": "SMF", "titleAngle": 90, "titleAlign": "center", "titleBaseline": "top", "titleFont": "Liberation Sans", "titleFontSize": 27, "titleFontWeight": "bold", "titleColor": "#000000", "titlePadding": 34}},
                    "y2": {"field": "hi"},
                    "color": {"condition": {"test": "datum.series === 'Derived from HSRL'", "value": "#ff0000"}, "value": "#000000"}
                  }
                },
                {
                  "mark": {"type": "line", "clip": true},
                  "encoding": {
                    "x": {"field": "alt", "type": "quantitative",
                      "axis": {"orient": "bottom", "values": [0, 250, 500, 750, 1000, 1250, 1500, 1750, 2000, 2250, 2500, 2750, 3000, 3250, 3500, 3750, 4000], "labels": false, "domain": false, "grid": false, "title": null, "ticks": true, "tickColor": "#000000", "tickWidth": 2.5, "tickSize": {"condition": {"test": "datum.value % 500 === 0", "value": -12}, "value": -6}}},
                    "y": {"field": "smf", "type": "quantitative",
                      "axis": {"orient": "right", "offset": -45, "minExtent": 0, "values": [0.7, 0.725, 0.75, 0.775, 0.8, 0.825, 0.85, 0.875, 0.9, 0.925, 0.95, 0.975, 1.0], "labels": false, "domain": false, "grid": false, "ticks": true, "tickColor": "#000000", "tickWidth": 2.5, "tickSize": {"condition": {"test": "abs(datum.value * 20 - round(datum.value * 20)) < 0.001", "value": -12}, "value": -6},
                        "title": "June 30 , 2008 ARCTAS", "titleAngle": 90, "titleAlign": "center", "titleAnchor": "middle", "titleBaseline": "bottom", "titleFont": "Liberation Sans", "titleFontSize": 22, "titleFontWeight": "normal", "titleColor": "#1f2d5c", "titlePadding": 19.5}},
                    "color": {"condition": {"test": "datum.series === 'Derived from HSRL'", "value": "#ff0000"}, "value": "#000000"},
                    "detail": [{"field": "series"}, {"field": "seg"}],
                    "order": {"field": "alt", "type": "quantitative"},
                    "strokeWidth": {"condition": {"test": "datum.series === 'Derived from HSRL'", "value": 3.5}, "value": 4}
                  }
                },
                {
                  "mark": {"type": "point", "shape": "M-1,-0.62H1V0.62H-1Z", "filled": true, "size": 196, "opacity": 1, "clip": true},
                  "encoding": {
                    "x": {"field": "alt", "type": "quantitative",
                      "axis": {"orient": "top", "values": [0, 250, 500, 750, 1000, 1250, 1500, 1750, 2000, 2250, 2500, 2750, 3000, 3250, 3500, 3750, 4000], "labels": false, "domain": false, "grid": false, "title": null, "ticks": true, "tickColor": "#000000", "tickWidth": 2.5, "tickSize": {"condition": {"test": "datum.value % 500 === 0", "value": -12}, "value": -6}}},
                    "y": {"field": "smf", "type": "quantitative",
                      "axis": {"orient": "left", "offset": -99, "values": [0.7, 0.725, 0.75, 0.775, 0.8, 0.825, 0.85, 0.875, 0.9, 0.925, 0.95, 0.975, 1.0], "labels": false, "domain": false, "grid": false, "title": null, "ticks": true, "tickColor": "#000000", "tickWidth": 2.5, "tickSize": {"condition": {"test": "abs(datum.value * 20 - round(datum.value * 20)) < 0.001", "value": -12}, "value": -6}}},
                    "color": {"condition": {"test": "datum.series === 'Derived from HSRL'", "value": "#ff0000"}, "value": "#000000"}
                  }
                },
                {"mark": {"type": "rect", "fill": "#ffffff", "stroke": "#333333", "strokeWidth": 1.2}, "encoding": {"x": {"datum": 3199, "type": "quantitative", "axis": null}, "x2": {"datum": 3949}, "y": {"datum": 0.7079, "type": "quantitative", "axis": null}, "y2": {"datum": 0.985}}},
                {"mark": {"type": "rule", "color": "#000000", "strokeWidth": 3}, "encoding": {"x": {"datum": 3804, "type": "quantitative", "axis": null}, "y": {"datum": 0.736, "type": "quantitative", "axis": null}, "y2": {"datum": 0.7749}}},
                {"mark": {"type": "point", "shape": "M-1,-0.8H1V0.8H-1Z", "filled": true, "size": 121, "opacity": 1, "color": "#000000"}, "encoding": {"x": {"datum": 3804, "type": "quantitative", "axis": null}, "y": {"datum": 0.7554, "type": "quantitative", "axis": null}}},
                {"mark": {"type": "rule", "color": "#ff0000", "strokeWidth": 3}, "encoding": {"x": {"datum": 3552, "type": "quantitative", "axis": null}, "y": {"datum": 0.736, "type": "quantitative", "axis": null}, "y2": {"datum": 0.7749}}},
                {"mark": {"type": "point", "shape": "M-1,-0.8H1V0.8H-1Z", "filled": true, "size": 121, "opacity": 1, "color": "#ff0000"}, "encoding": {"x": {"datum": 3552, "type": "quantitative", "axis": null}, "y": {"datum": 0.7554, "type": "quantitative", "axis": null}}},
                {"mark": {"type": "text", "text": "Measured In situ", "angle": 90, "align": "left", "baseline": "middle", "font": "Liberation Sans", "fontSize": 21.5, "color": "#1f2d5c"}, "encoding": {"x": {"datum": 3795, "type": "quantitative", "axis": null}, "y": {"datum": 0.7804, "type": "quantitative", "axis": null}}},
                {"mark": {"type": "text", "text": "Derived from HSRL", "angle": 90, "align": "left", "baseline": "middle", "font": "Liberation Sans", "fontSize": 21.5, "color": "#1f2d5c"}, "encoding": {"x": {"datum": 3545, "type": "quantitative", "axis": null}, "y": {"datum": 0.7804, "type": "quantitative", "axis": null}}},
                {"mark": {"type": "text", "text": "Extinction Angstrom Exponent", "angle": 90, "align": "left", "baseline": "middle", "font": "Liberation Sans", "fontSize": 21.5, "color": "#1f2d5c"}, "encoding": {"x": {"datum": 3303, "type": "quantitative", "axis": null}, "y": {"datum": 0.736, "type": "quantitative", "axis": null}}}
              ]
            }
          ]
        }
      ]
    }
  ]
}
